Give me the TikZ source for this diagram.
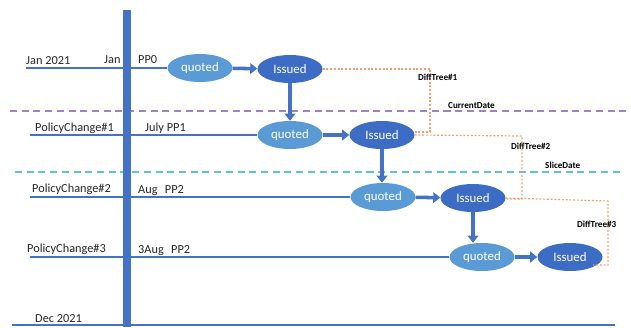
\documentclass[tikz,border=0pt]{standalone}
\usepackage{fontspec}
\setmainfont{Carlito}
\usetikzlibrary{shapes.geometric,arrows.meta}
\definecolor{lightb}{HTML}{5B9BD5}
\definecolor{darkb}{HTML}{3D6CC4}
\definecolor{lineb}{HTML}{4472C4}
\definecolor{purp}{HTML}{A07FCB}
\definecolor{cyanl}{HTML}{5DC3DC}
\definecolor{orng}{HTML}{F2A073}
\begin{document}
\begin{tikzpicture}[x=0.03cm,y=-0.03cm,
 st/.style={ellipse, minimum width=1.95cm, minimum height=0.84cm, inner sep=0, text=white, font=\fontsize{11}{13}\selectfont},
 qt/.style={st, fill=lightb},
 is/.style={st, fill=darkb},
 tl/.style={draw=lineb, line width=1.3pt},
 lab/.style={anchor=base west, inner sep=0, font=\fontsize{10.5}{12}\selectfont, text=black!85},
 dt/.style={anchor=base west, inner sep=0, font=\fontsize{7.8}{9}\selectfont\bfseries},
 flow/.style={draw=lineb, line width=3pt, -{Triangle[length=6pt,width=9pt]}},
 diff/.style={draw=orng, dash pattern=on 1.6pt off 1.6pt, line width=1pt},
 sep/.style={line width=1.3pt, dash pattern=on 6pt off 4pt}
]
\useasboundingbox (0,0) rectangle (631,327);

% separator lines
\draw[sep, draw=purp] (10,111) -- (627,111);
\draw[sep, draw=cyanl] (15,172) -- (622,172);
\node[dt] (cd) at (448,108) {CurrentDate};
\node[dt] (sd) at (545,168) {SliceDate};

% state nodes
\node[qt] (q1) at (200,68) {quoted};
\node[is] (i1) at (290,69) {Issued};
\node[qt] (q2) at (290,135) {quoted};
\node[is] (i2) at (382,135) {Issued};
\node[qt] (q3) at (383,197) {quoted};
\node[is] (i3) at (473,198) {Issued};
\node[qt] (q4) at (482,257) {quoted};
\node[is] (i4) at (570,257) {Issued};

% timeline starts
\coordinate (s0) at (26,68);
\coordinate (s1) at (30,135);
\coordinate (s2) at (30,197);
\coordinate (s3) at (30,257);
\coordinate (s4) at (12,325);
\coordinate (e4) at (615,325);
\draw[tl] (s0) -- (q1.west);
\draw[tl] (s1) -- (q2.west);
\draw[tl] (s2) -- (q3.west);
\draw[tl] (s3) -- (q4.west);
\draw[tl] (s4) -- (e4);

% vertical bar
\coordinate (vt) at (127,10);
\coordinate (vb) at (127,327);
\draw[draw=lineb, line width=6pt] (vt) -- (vb);

% labels
\node[lab] (l0) at (26,64) {Jan 2021};
\node[lab] (l0b) at (104,63) {Jan};
\node[lab] (l0c) at (138,63) {PP0};
\node[lab] (l1) at (35,131) {PolicyChange\#1};
\node[lab] (l1b) at (145,131) {July PP1};
\node[lab] (l2) at (32,192) {PolicyChange\#2};
\node[lab] (l2b) at (138,193) {Aug\hspace{0.6em}PP2};
\node[lab] (l3) at (27,252) {PolicyChange\#3};
\node[lab] (l3b) at (138,253) {3Aug\hspace{0.6em}PP2};
\node[lab] (l4) at (35,322) {Dec 2021};

% flow arrows
\draw[flow] (q1) -- (i1);
\draw[flow] (q2) -- (i2);
\draw[flow] (q3) -- (i3);
\draw[flow] (q4) -- (i4);
\draw[flow] (i1.south) -- (i1.south |- q2.north);
\draw[flow] (i2.south) -- (i2.south |- q3.north);
\draw[flow] (i3.south) -- (i3.south |- q4.north);

% diff trees
\draw[diff] (i1.east) -- (430,69) -- (430,132) -- (i2.east |- 0,132);
\draw[diff] (i2.east) -- (522,136) -- (522,199) -- (i3.east |- 0,199);
\draw[diff] (i3.east) -- (608,201) -- (608,265) -- (i4.south east |- 0,265);
\node[dt] (d1) at (418,80) {DiffTree\#1};
\node[dt] (d2) at (511,149) {DiffTree\#2};
\node[dt] (d3) at (577,227) {DiffTree\#3};
\end{tikzpicture}
\end{document}
